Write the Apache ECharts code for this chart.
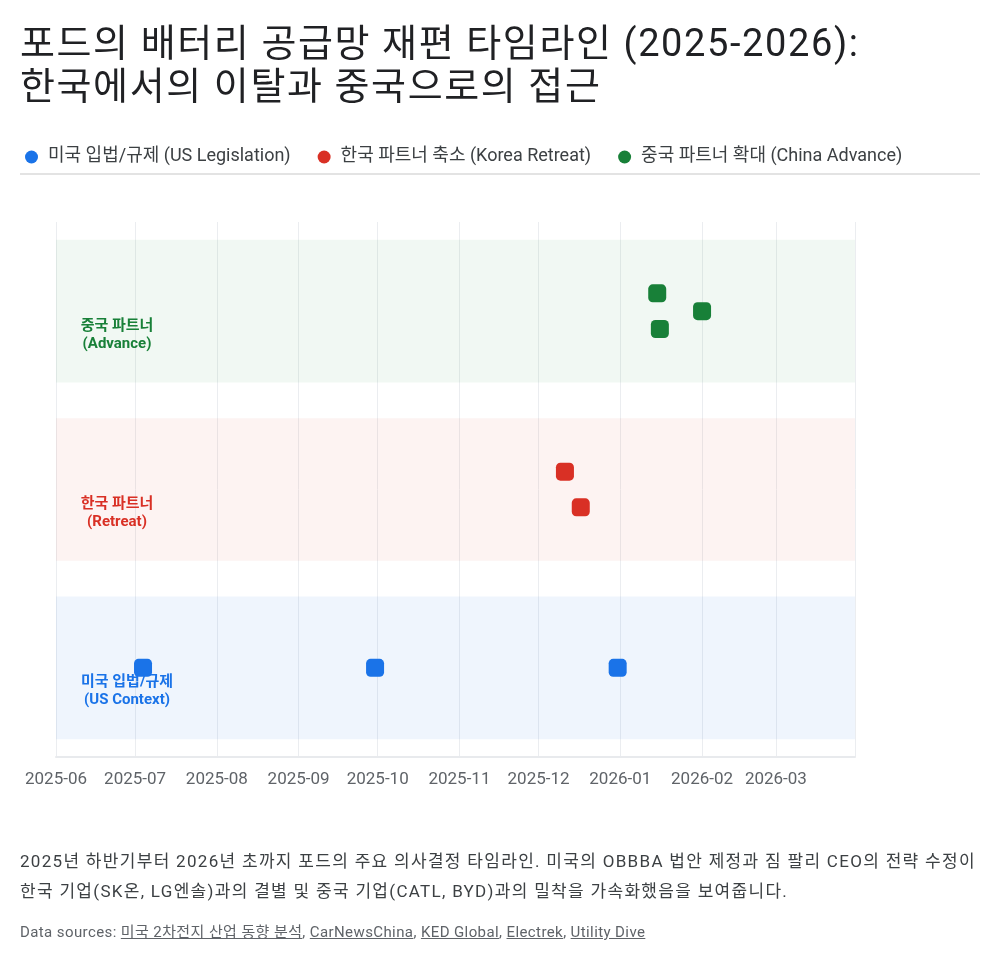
<!DOCTYPE html>
<html lang="ko">
<head>
<meta charset="utf-8">
<title>포드의 배터리 공급망 재편 타임라인</title>
<script src="https://cdn.jsdelivr.net/npm/echarts@6/dist/echarts.min.js"></script>
<style>
  html, body { margin: 0; padding: 0; background: #fff; }
  body {
    width: 1000px; height: 963px; position: relative; overflow: hidden;
    font-family: Roboto, "Noto Sans CJK KR", sans-serif;
  }
  #chart { position: absolute; left: 0; top: 0; width: 1000px; height: 963px; }
  .title {
    position: absolute; left: 20px; top: 22px; margin: 0;
    font-size: 38px; line-height: 43px; font-weight: 400; color: #202124;
    letter-spacing: 1.6px; white-space: nowrap;
  }
  .rule { position: absolute; left: 20px; top: 173px; width: 960px; height: 2px; background: #e3e3e3; }
  .desc {
    position: absolute; left: 20px; top: 846px; margin: 0;
    font-size: 17px; line-height: 30px; color: #3c4043; white-space: nowrap;
    letter-spacing: 1.3px;
  }
  .sources {
    position: absolute; left: 20px; top: 922px; margin: 0;
    font-size: 15px; line-height: 20px; color: #5f6368; letter-spacing: 0.4px;
    white-space: nowrap;
  }
  .sources a { color: #5f6368; text-decoration: underline; }
</style>
</head>
<body>
<div id="chart"></div>

<!-- Header -->
<h1 class="title">포드의 배터리 공급망 재편 타임라인 (2025-2026):<br>한국에서의 이탈과 중국으로의 접근</h1>
<div class="rule"></div>

<!-- Footer -->
<p class="desc">2025년 하반기부터 2026년 초까지 포드의 주요 의사결정 타임라인. 미국의 OBBBA 법안 제정과 짐 팔리 CEO의 전략 수정이<br>한국 기업(SK온, LG엔솔)과의 결별 및 중국 기업(CATL, BYD)과의 밀착을 가속화했음을 보여줍니다.</p>
<p class="sources">Data sources: <a>미국 2차전지 산업 동향 분석</a>, <a>CarNewsChina</a>, <a>KED Global</a>, <a>Electrek</a>, <a>Utility Dive</a></p>

<script>
const seriesNames = ["미국 입법/규제 (US Legislation)", "한국 파트너 축소 (Korea Retreat)", "중국 파트너 확대 (China Advance)"];
const bandLabels = ["미국 입법/규제\n(US Context)", "한국 파트너\n(Retreat)", "중국 파트너\n(Advance)"];

// event dates per lane, y = lane index with a small offset so marks don't overlap
const usDates = ["2025-07-04", "2025-09-30", "2025-12-31"];
const usLane = [0, 0, 0];
const krDates = ["2025-12-11", "2025-12-17"];
const krLane = [1.1, 0.9];
const cnDates = ["2026-01-15", "2026-02-01", "2026-01-16"];
const cnLane = [2.1, 2.0, 1.9];

const axisMin = "2025-06-01";
const axisMax = "2026-03-31";

const colors = ["#1a73e8", "#d93025", "#188038"];
const bandFills = ["rgba(26,115,232,0.07)", "rgba(217,48,37,0.06)", "rgba(24,128,56,0.06)"];
const FONT = 'Roboto, "Noto Sans CJK KR", sans-serif';
const DAY = 86400000;

const chart = echarts.init(document.getElementById("chart"));

const pairs = (dates, lane) => dates.map((d, i) => [d, lane[i]]);
const bandLabelPos = [[71, 95], [61, 95], [61, 95]];

const bands = bandLabels.map((text, i) => [
  {
    yAxis: i - 0.4,
    itemStyle: { color: bandFills[i] },
    label: {
      show: true,
      formatter: text,
      position: bandLabelPos[i],
      align: "center",
      verticalAlign: "middle",
      color: colors[i],
      fontSize: 15,
      fontWeight: "bold",
      lineHeight: 18,
      fontFamily: FONT,
    },
  },
  { yAxis: i + 0.4 },
]);

const makeSeries = (name, data, color, withBands) => ({
  name,
  type: "scatter",
  data,
  symbol: "roundRect",
  symbolSize: 18,
  itemStyle: { color, opacity: 1 },
  z: 3,
  markArea: withBands ? { silent: true, data: bands } : undefined,
});

const option = {
  animation: false,
  textStyle: { fontFamily: FONT },
  legend: {
    left: 20,
    top: 143,
    icon: "circle",
    itemWidth: 13,
    itemHeight: 13,
    itemGap: 27,
    textStyle: { fontSize: 18, color: "#3c4043", padding: [0, 0, 0, 5], fontFamily: FONT },
    data: seriesNames,
  },
  grid: { left: 56, right: 145, top: 222, bottom: 206 },
  xAxis: {
    type: "time",
    min: axisMin,
    max: axisMax,
    minInterval: 28 * DAY,
    maxInterval: 31 * DAY,
    axisLine: { show: true, onZero: false, lineStyle: { color: "#e8eaed", width: 2 } },
    axisTick: { show: false },
    splitLine: { show: true, lineStyle: { color: "#ebedf0", width: 1 } },
    axisLabel: {
      color: "#5f6368",
      fontSize: 17,
      margin: 14,
      fontFamily: FONT,
      formatter: "{yyyy}-{MM}",
    },
  },
  yAxis: {
    type: "value",
    min: -0.5,
    max: 2.5,
    axisLine: { show: false },
    axisTick: { show: false },
    axisLabel: { show: false },
    splitLine: { show: false },
  },
  series: [
    makeSeries(seriesNames[0], pairs(usDates, usLane), colors[0], true),
    makeSeries(seriesNames[1], pairs(krDates, krLane), colors[1], false),
    makeSeries(seriesNames[2], pairs(cnDates, cnLane), colors[2], false),
  ],
};

chart.setOption(option);
window.addEventListener("resize", chart.resize);
</script>
</body>
</html>
